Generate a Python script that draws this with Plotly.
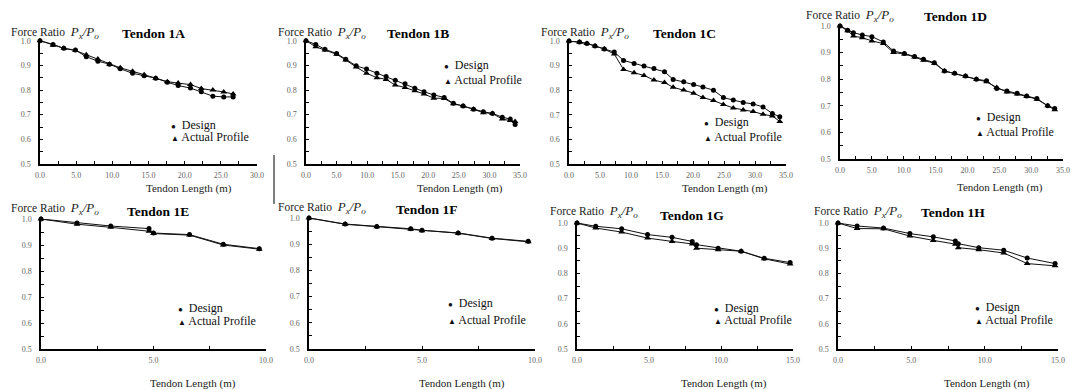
import plotly.graph_objects as go

W, H = 1073, 390

# ---------------- data ----------------
tendons = ["1A", "1B", "1C", "1D", "1E", "1F", "1G", "1H"]
x_max = [30, 35, 35, 35, 10, 10, 15, 15]

A_x = [0, 1.8, 3.3, 4.9, 6.4, 8.0, 9.6, 11.1, 12.8, 14.4, 16.0, 17.6, 19.1, 20.8, 22.3, 23.9, 25.4, 26.7]
A_design = [1.0, 0.985, 0.969, 0.962, 0.935, 0.917, 0.905, 0.886, 0.868, 0.858, 0.848, 0.832, 0.818, 0.808, 0.793, 0.775, 0.772, 0.772]
A_actual = [1.0, 0.982, 0.969, 0.960, 0.943, 0.926, 0.905, 0.890, 0.876, 0.862, 0.848, 0.834, 0.828, 0.822, 0.806, 0.800, 0.792, 0.784]

B_x = [0, 1.6, 3.1, 5.0, 6.5, 8.2, 9.9, 11.6, 13.1, 14.6, 16.2, 17.8, 19.3, 20.9, 22.6, 24.1, 25.7, 27.4, 29.0, 30.5, 32.1, 33.4, 34.2]
B_design = [1.0, 0.985, 0.965, 0.948, 0.925, 0.898, 0.885, 0.868, 0.855, 0.840, 0.825, 0.807, 0.793, 0.780, 0.770, 0.746, 0.735, 0.722, 0.712, 0.705, 0.690, 0.682, 0.660]
B_actual = [1.0, 0.975, 0.962, 0.945, 0.922, 0.893, 0.868, 0.850, 0.843, 0.820, 0.810, 0.797, 0.784, 0.767, 0.766, 0.744, 0.735, 0.722, 0.708, 0.705, 0.682, 0.676, 0.672]

C_x = [0, 1.7, 2.9, 4.2, 5.7, 7.3, 8.8, 10.5, 12.1, 13.7, 15.4, 16.8, 18.5, 20.1, 21.6, 23.3, 24.9, 26.5, 28.1, 29.7, 31.3, 32.8, 34.0]
C_design = [1.0, 0.996, 0.990, 0.980, 0.967, 0.955, 0.921, 0.909, 0.898, 0.888, 0.875, 0.844, 0.834, 0.823, 0.813, 0.800, 0.770, 0.760, 0.750, 0.744, 0.732, 0.705, 0.692]
C_actual = [1.0, 0.995, 0.990, 0.980, 0.967, 0.947, 0.884, 0.871, 0.860, 0.841, 0.831, 0.812, 0.801, 0.788, 0.770, 0.758, 0.742, 0.728, 0.720, 0.713, 0.702, 0.695, 0.673]

D_x = [0, 1.2, 2.1, 3.5, 5.0, 6.8, 8.4, 10.1, 11.7, 13.1, 14.8, 16.4, 18.0, 19.7, 21.4, 23.0, 24.6, 26.2, 27.8, 29.3, 30.9, 32.6, 33.7]
D_design = [1.0, 0.984, 0.975, 0.966, 0.960, 0.940, 0.906, 0.897, 0.885, 0.875, 0.862, 0.831, 0.822, 0.812, 0.800, 0.794, 0.765, 0.756, 0.747, 0.737, 0.727, 0.700, 0.690]
D_actual = [1.0, 0.982, 0.962, 0.956, 0.944, 0.934, 0.900, 0.895, 0.883, 0.871, 0.860, 0.831, 0.821, 0.811, 0.800, 0.790, 0.769, 0.752, 0.744, 0.735, 0.725, 0.700, 0.685]

E_x = [0, 1.6, 3.1, 4.8, 5.0, 6.6, 8.1, 9.7]
E_design = [1.0, 0.985, 0.973, 0.963, 0.946, 0.940, 0.903, 0.886]
E_actual = [1.0, 0.980, 0.968, 0.953, 0.944, 0.938, 0.900, 0.884]

F_x = [0, 1.6, 3.0, 4.5, 5.0, 6.6, 8.1, 9.7]
F_design = [1.0, 0.977, 0.968, 0.959, 0.953, 0.943, 0.923, 0.911]
F_actual = [1.0, 0.976, 0.967, 0.957, 0.951, 0.942, 0.922, 0.909]

G_x = [0, 1.3, 3.1, 4.9, 6.6, 8.0, 8.3, 9.8, 11.4, 13.0, 14.8]
G_design = [1.0, 0.987, 0.977, 0.954, 0.943, 0.927, 0.914, 0.900, 0.888, 0.860, 0.843]
G_actual = [1.0, 0.980, 0.964, 0.940, 0.927, 0.917, 0.900, 0.894, 0.888, 0.858, 0.837]

H_x = [0, 1.3, 3.1, 4.9, 6.5, 8.0, 8.2, 9.6, 11.3, 12.9, 14.8]
H_design = [1.0, 0.988, 0.980, 0.958, 0.945, 0.929, 0.918, 0.902, 0.892, 0.861, 0.839]
H_actual = [1.0, 0.978, 0.977, 0.948, 0.931, 0.916, 0.902, 0.894, 0.881, 0.839, 0.830]

series = [
    (A_x, A_design, A_actual), (B_x, B_design, B_actual),
    (C_x, C_design, C_actual), (D_x, D_design, D_actual),
    (E_x, E_design, E_actual), (F_x, F_design, F_actual),
    (G_x, G_design, G_actual), (H_x, H_design, H_actual),
]

# ---------------- layout (pixel boxes) ----------------
# left, right, top(y=1.0), bottom(y=0.5)
boxes = [
    (40, 257, 40.7, 164), (306, 520, 40.7, 164), (569, 786, 41, 164), (840, 1063, 26, 159),
    (41, 266, 219, 349), (309, 535, 218, 349), (577, 793, 223, 349), (838, 1058, 223, 349),
]
force_pos = [(9, 32), (276, 32), (539, 32), (804, 16), (9, 208), (276, 207), (548, 212), (812, 212)]
title_pos = [(153, 33), (418, 33), (684, 33), (955, 17), (158, 211), (426, 209), (692, 215), (953, 213)]
xtitle_pos = [(189, 188), (460, 188), (725, 188), (1000, 187), (193, 383), (462, 383), (724, 383), (987, 383)]
legend_pos = [(173, 125, 137), (446, 65, 80), (706, 122, 137), (978, 117, 132),
              (180, 308, 321), (450, 303, 320), (716, 308, 320), (977, 307, 320)]


def px(x):
    return x / W


def py(y):
    return 1 - y / H


SERIF = "Liberation Serif"

fig = go.Figure()
annotations = []
layout = {}

for i, (name, xm, (xs, des, act)) in enumerate(zip(tendons, x_max, series)):
    k = "" if i == 0 else str(i + 1)
    xa, ya = "x" + k, "y" + k
    L, R, T, B = boxes[i]
    fig.add_trace(go.Scatter(
        x=xs, y=des, xaxis=xa, yaxis=ya, mode="lines+markers", name="Design",
        line=dict(color="#111", width=1), marker=dict(symbol="circle", size=5, color="#000"),
        cliponaxis=False, showlegend=False))
    fig.add_trace(go.Scatter(
        x=xs, y=act, xaxis=xa, yaxis=ya, mode="lines+markers", name="Actual Profile",
        line=dict(color="#111", width=1), marker=dict(symbol="triangle-up", size=6, color="#000"),
        cliponaxis=False, showlegend=False))

    common = dict(
        showline=True, linecolor="#000", linewidth=1.5, showgrid=False, zeroline=False,
        ticks="inside", ticklen=3, tickcolor="#000", automargin=False, fixedrange=True,
        tickfont=dict(family=SERIF, size=8, color="#666"))
    layout["xaxis" + k] = dict(
        domain=[px(L), px(R)], anchor=ya, range=[0, xm], dtick=5, tickformat=".1f",
        ticklabelstandoff=3,
        minor=dict(dtick=2.5, ticks="inside", ticklen=3, tickcolor="#000"), **common)
    layout["yaxis" + k] = dict(
        domain=[py(B), py(T)], anchor=xa, range=[0.5, 1.0], dtick=0.1, tickformat=".1f",
        ticklabelstandoff=6,
        minor=dict(dtick=0.05, ticks="inside", ticklen=3, tickcolor="#000"), **common)

    fx, fy = force_pos[i]
    annotations.append(dict(
        x=px(fx), y=py(fy), xref="paper", yref="paper", xanchor="left", yanchor="middle",
        text="Force Ratio  <i><span style='font-size:13px'>P<sub>x</sub>/P<sub>o</sub></span></i>",
        showarrow=False, font=dict(family=SERIF, size=11.5, color="#222")))
    tx, ty = title_pos[i]
    annotations.append(dict(
        x=px(tx), y=py(ty), xref="paper", yref="paper", xanchor="center", yanchor="middle",
        text="<b>Tendon " + name + "</b>", showarrow=False,
        font=dict(family=SERIF, size=13.5, color="#000")))
    xx, xy = xtitle_pos[i]
    annotations.append(dict(
        x=px(xx), y=py(xy), xref="paper", yref="paper", xanchor="center", yanchor="middle",
        text="Tendon Length (m)", showarrow=False,
        font=dict(family=SERIF, size=11, color="#222")))
    lx, ly1, ly2 = legend_pos[i]
    annotations.append(dict(
        x=px(lx - 4), y=py(ly1), xref="paper", yref="paper", xanchor="left", yanchor="middle",
        text="<span style='font-size:8px'>●</span>  Design", showarrow=False,
        font=dict(family=SERIF, size=12, color="#111")))
    annotations.append(dict(
        x=px(lx - 4), y=py(ly2), xref="paper", yref="paper", xanchor="left", yanchor="middle",
        text="<span style='font-size:8px'>▲</span> Actual Profile", showarrow=False,
        font=dict(family=SERIF, size=12, color="#111")))

fig.update_layout(
    template="none",
    width=W, height=H, margin=dict(l=0, r=0, t=0, b=0, autoexpand=False),
    paper_bgcolor="white", plot_bgcolor="white",
    annotations=annotations,
    shapes=[dict(type="line", xref="paper", yref="paper", x0=px(274), x1=px(274),
                 y0=py(155), y1=py(204), line=dict(color="#000", width=1))],
    **layout)

fig.write_html("out.html", config={"displayModeBar": False},
               post_script="document.body.style.margin='0';document.body.style.overflow='hidden';")
